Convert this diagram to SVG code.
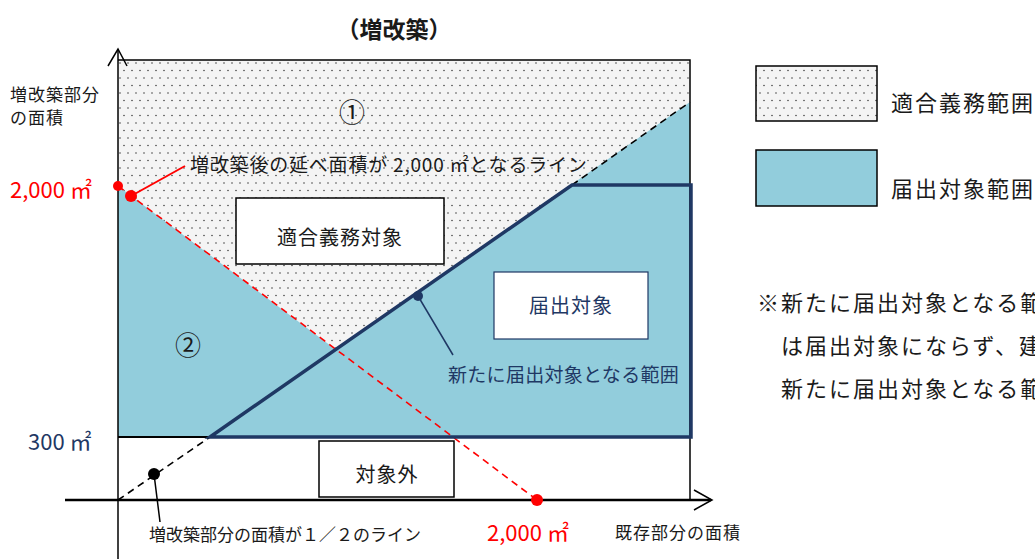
<svg xmlns="http://www.w3.org/2000/svg" width="1035" height="559" viewBox="0 0 1035 559">
<defs>
<pattern id="dots" patternUnits="userSpaceOnUse" x="118" y="60" width="8" height="15">
<rect width="8" height="15" fill="#f4f4f4"/>
<circle cx="2" cy="3" r="0.8" fill="#444"/>
<circle cx="6" cy="10.5" r="0.8" fill="#444"/>
</pattern>
<style>
text{font-family:"Noto Sans CJK JP","Noto Sans",sans-serif;fill:#1a1a1a}
.lbl{font-size:20px;letter-spacing:1px}
.red{fill:#ff0000}
.navy{fill:#1f3864}
.box{fill:#fff;stroke:#000;stroke-width:1.5}
.ax{stroke:#000;stroke-width:1.5;fill:none}
.blue{fill:#92cddc}
.big{font-size:22px;letter-spacing:2px}
</style>
</defs>
<rect width="1035" height="559" fill="#fff"/>

<text x="394" y="38" text-anchor="middle" style="font-size:23px;font-weight:bold">（増改築）</text>

<g id="regions">
<rect x="118" y="60" width="572" height="377" fill="url(#dots)"/>
<polygon class="blue" points="118,186 335,349 690,102 690,437 118,437"/>
<rect x="118" y="437" width="572" height="63" fill="#fff"/>
<polyline points="118,60 690,60 690,500" class="ax" stroke-width="2"/>
<line x1="118" y1="437" x2="690" y2="437" stroke="#000" stroke-width="2"/>
</g>

<g id="lines">
<line x1="118" y1="500" x2="210" y2="437" stroke="#000" stroke-width="1.6" stroke-dasharray="7,5"/>
<line x1="572" y1="185" x2="690" y2="102" stroke="#000" stroke-width="1.6" stroke-dasharray="7,5"/>
<line x1="118" y1="186" x2="537" y2="500" stroke="#ff0000" stroke-width="1.6" stroke-dasharray="7,5"/>
<polygon points="210,437 572,185 691,185 691,437" fill="none" stroke="#1f3864" stroke-width="3.5" stroke-linejoin="miter"/>
</g>

<g id="axes">
<line x1="118" y1="49" x2="118" y2="559" class="ax"/>
<polyline points="108,66 118,49 127,66" class="ax"/>
<line x1="65" y1="500" x2="711" y2="500" stroke="#000" stroke-width="2.5"/>
<polyline points="694,490 712,500 694,510" class="ax" stroke-width="2"/>
</g>

<g id="node-tekigo">
<rect class="box" x="236" y="198" width="208" height="66"/>
<text class="lbl" x="340" y="245" text-anchor="middle">適合義務対象</text>
</g>
<g id="node-todokede">
<rect x="494" y="272" width="154" height="67" fill="#fff" stroke="#1f3864" stroke-width="1.2"/>
<text class="lbl navy" x="571" y="313" text-anchor="middle">届出対象</text>
</g>
<g id="node-taishogai">
<rect class="box" x="319" y="441" width="135" height="56"/>
<text class="lbl" x="387" y="482" text-anchor="middle">対象外</text>
</g>

<g id="region-labels">
<text x="352" y="122" text-anchor="middle" style="font-size:26px">①</text>
<text x="188" y="355" text-anchor="middle" style="font-size:26px">②</text>
</g>

<g id="axis-labels">
<text x="10" y="101" style="font-size:17px;letter-spacing:1px">増改築部分</text>
<text x="10" y="124" style="font-size:17px;letter-spacing:1px">の面積</text>
<text x="10" y="198" class="red" style="font-size:22px">2,000 ㎡</text>
<text x="28" y="450" class="navy" style="font-size:22px">300 ㎡</text>
<text x="487" y="541" class="red" style="font-size:22px">2,000 ㎡</text>
<text x="615" y="539" style="font-size:17px;letter-spacing:1px">既存部分の面積</text>
</g>

<g id="connectors">
<circle cx="118" cy="186" r="5" fill="#ff0000"/>
<circle cx="131" cy="196" r="6" fill="#ff0000"/>
<circle cx="537" cy="500" r="6" fill="#ff0000"/>
<line x1="131" y1="196" x2="185" y2="166" stroke="#ff0000" stroke-width="2"/>
<circle cx="418" cy="296" r="5" fill="#1f3864"/>
<line x1="418" y1="296" x2="453" y2="355" stroke="#1f3864" stroke-width="1.5"/>
<circle cx="154" cy="474" r="6" fill="#000"/>
<line x1="154" y1="474" x2="160" y2="522" stroke="#000" stroke-width="1.5"/>
</g>

<g id="callouts">
<text x="190" y="172" style="font-size:19px;letter-spacing:0.8px">増改築後の延べ面積が 2,000 ㎡となるライン</text>
<text x="448" y="382" class="navy" style="font-size:19px;letter-spacing:0.3px">新たに届出対象となる範囲</text>
<text x="149" y="541" style="font-size:17px">増改築部分の面積が１／２のライン</text>
</g>

<g id="legend">
<rect x="756" y="66" width="121" height="55" fill="url(#dots)" stroke="#000" stroke-width="1.5"/>
<text x="891" y="111" class="big">適合義務範囲</text>
<rect x="756" y="150" width="121" height="56" class="blue" stroke="#000" stroke-width="1.5"/>
<text x="891" y="197" class="big">届出対象範囲</text>
</g>

<g id="note">
<text x="757" y="311" class="big">※新たに届出対象となる範</text>
<text x="781" y="354" class="big">は届出対象にならず、建</text>
<text x="781" y="397" class="big">新たに届出対象となる範</text>
</g>
</svg>
